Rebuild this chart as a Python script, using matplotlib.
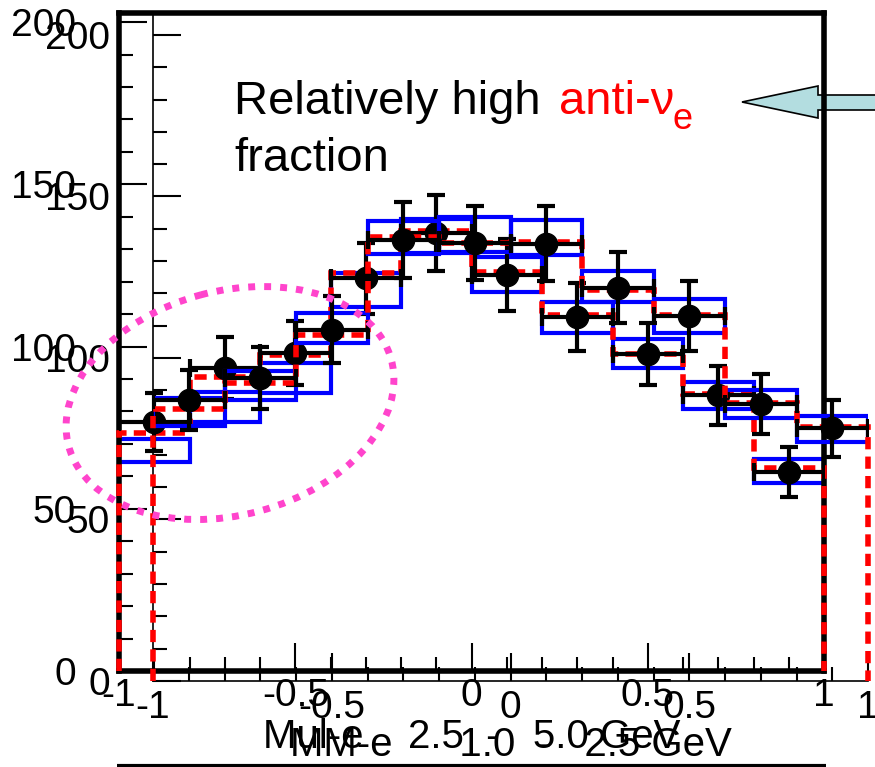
import matplotlib
matplotlib.use('Agg')
import matplotlib.pyplot as plt
from matplotlib.patches import Ellipse, Polygon
from matplotlib.ticker import MultipleLocator, FuncFormatter
import numpy as np

plt.rcParams['font.family'] = ['Liberation Sans', 'DejaVu Sans']
plt.rcParams['axes.unicode_minus'] = False

# cos(zenith) binning, same for both samples
bin_edges = [-1.0, -0.8, -0.6, -0.4, -0.2, 0.0, 0.2, 0.4, 0.6, 0.8, 1.0]
bin_centers = [-0.9, -0.7, -0.5, -0.3, -0.1, 0.1, 0.3, 0.5, 0.7, 0.9]

# sample 1: Mul-e 2.5 - 5.0 GeV (thick frame)
data_a = [76.7, 93.4, 98.0, 121.0, 135.0, 122.0, 109.0, 97.7, 85.0, 61.3]
err_a = [8.9, 9.6, 9.9, 10.9, 11.6, 11.1, 10.5, 9.7, 9.1, 7.7]
mc_a = [73.3, 90.6, 97.4, 122.6, 135.5, 123.0, 109.7, 97.7, 85.4, 62.6]
band_lo_a = [64.4, 76.7, 85.7, 112.2, 128.8, 116.8, 104.2, 93.4, 80.7, 57.9]
band_hi_a = [71.5, 86.0, 94.9, 122.6, 139.3, 127.5, 113.7, 102.3, 89.0, 65.3]

# sample 2: MM-e 1.0 - 2.5 GeV (thin frame)
data_b = [87.0, 93.8, 108.7, 136.5, 135.6, 135.3, 121.7, 113.0, 85.8, 78.3]
err_b = [9.3, 9.6, 10.4, 11.8, 11.6, 11.6, 11.0, 10.7, 9.3, 8.8]
mc_b = [84.2, 92.3, 107.0, 137.5, 135.6, 136.0, 121.0, 113.3, 86.0, 78.6]
band_lo_b = [79.0, 87.0, 104.6, 132.2, 132.8, 131.9, 117.3, 107.7, 81.4, 74.0]
band_hi_b = [87.6, 96.0, 114.0, 142.4, 143.7, 142.7, 127.0, 118.3, 90.0, 82.0]

W, H = 875, 767
fig = plt.figure(figsize=(W / 100, H / 100), dpi=100)


def px_axes(left, top, right, bottom, z):
    return fig.add_axes([left / W, 1 - bottom / H, (right - left) / W, (bottom - top) / H], zorder=z)


def draw_panel(ax, data, err, mc, lo, hi, ytop, xpad):
    ax.bar(bin_centers, np.subtract(hi, lo), bottom=lo, width=0.2, fill=False,
           edgecolor='#0000ff', linewidth=3, zorder=2)
    ax.stairs(mc, bin_edges, baseline=0, color='#ff0000', linewidth=4,
              linestyle=(0, (2.2, 1.3)), zorder=3, clip_on=False)
    ax.errorbar(bin_centers, data, yerr=err, xerr=0.1, fmt='o', color='black', ms=16,
                elinewidth=3, capsize=6.5, capthick=3, zorder=4)
    ax.set_xlim(-1, 1)
    ax.set_ylim(0, ytop)
    ax.xaxis.set_major_locator(MultipleLocator(0.5))
    ax.xaxis.set_minor_locator(MultipleLocator(0.1))
    ax.yaxis.set_major_locator(MultipleLocator(50))
    ax.yaxis.set_minor_locator(MultipleLocator(10))
    ax.xaxis.set_major_formatter(FuncFormatter(lambda v, p: f'{v:g}'))
    ax.tick_params(which='both', direction='in', width=1.5, labelsize=28)
    ax.tick_params(which='major', length=20)
    ax.tick_params(which='minor', length=10)
    ax.tick_params(axis='y', pad=31)
    ax.tick_params(axis='x', pad=xpad)
    ax.patch.set_visible(False)


# arrow layer (below the frames)
ov_low = fig.add_axes([0, 0, 1, 1], zorder=0)
ov_low.set_xlim(0, W)
ov_low.set_ylim(H, 0)
ov_low.axis('off')
ov_low.add_patch(Polygon([(742, 102), (818, 86), (818, 95), (880, 95), (880, 110),
                          (818, 110), (818, 118)], closed=True,
                         facecolor='#b3dde0', edgecolor='black', linewidth=1.2))

# thick frame
ax_a = px_axes(119, 13, 824, 671, 1)
draw_panel(ax_a, data_a, err_a, mc_a, band_lo_a, band_hi_a, 202.8, 5)
for s in ax_a.spines.values():
    s.set_linewidth(4)
ax_a.set_xlabel('Mul-e    2.5  -   5.0 GeV', fontsize=29)
ax_a.xaxis.set_label_coords(0.5, -0.071)

# thin frame, shifted
ax_b = px_axes(153, 13, 868, 681, 2)
draw_panel(ax_b, data_b, err_b, mc_b, band_lo_b, band_hi_b, 206.8, 6.5)
ax_b.spines['top'].set_visible(False)
ax_b.spines['right'].set_visible(False)
ax_b.spines['left'].set_linewidth(1.2)
ax_b.spines['bottom'].set_linewidth(1.2)
ax_b.set_xlabel('MM-e      1.0  -   2.5 GeV', fontsize=29)
ax_b.xaxis.set_label_coords(0.5, -0.067)

# annotation layer
ov = fig.add_axes([0, 0, 1, 1], zorder=3)
ov.set_xlim(0, W)
ov.set_ylim(H, 0)
ov.axis('off')
ov.add_patch(Ellipse((230, 403), 334, 224, angle=-15, fill=False, edgecolor='#ff44cc',
                     linewidth=5, linestyle=(0, (1, 1.3))))
ov.text(234, 114, 'Relatively high', fontsize=34, va='baseline', ha='left')
ov.text(559, 114, 'anti-\u03bd', fontsize=34, va='baseline', ha='left', color='#ff0000')
ov.text(673, 129, 'e', fontsize=26, va='baseline', ha='left', color='#ff0000')
ov.text(234, 171, 'fraction', fontsize=34, va='baseline', ha='left')
ov.plot([117, 826], [765.5, 765.5], color='black', linewidth=3, solid_capstyle='butt')

fig.savefig('out.png', dpi=100)
